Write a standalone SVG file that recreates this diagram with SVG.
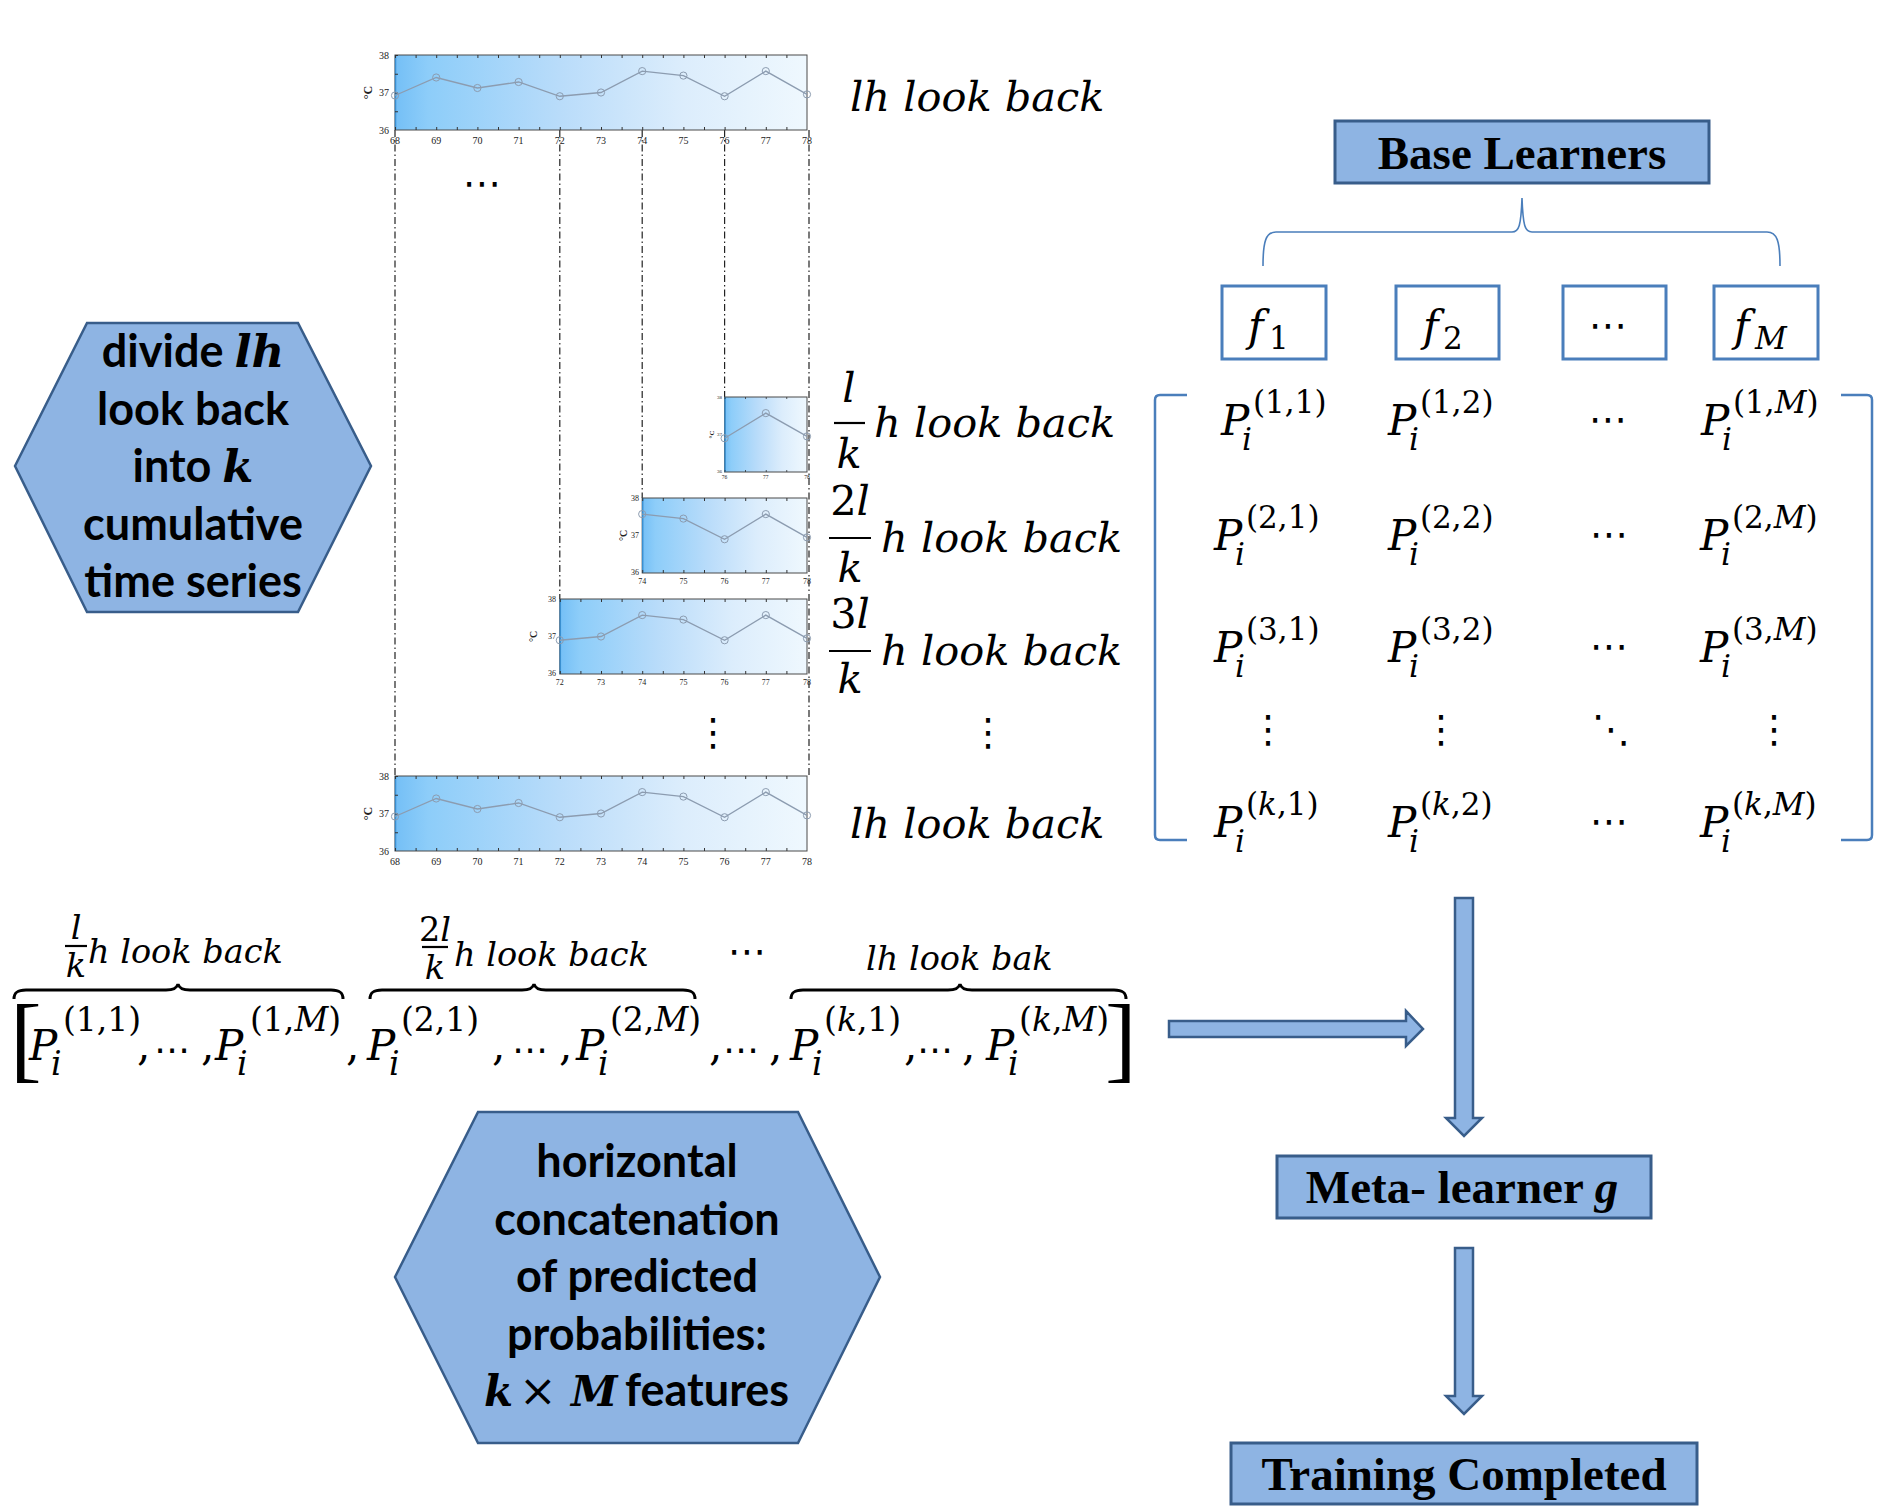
<svg xmlns="http://www.w3.org/2000/svg" width="1890" height="1512" viewBox="0 0 1890 1512">
<defs>
<linearGradient id="pg" x1="0" y1="0" x2="1" y2="0">
<stop offset="0" stop-color="#74bff6"/>
<stop offset="0.08" stop-color="#8dcdf9"/>
<stop offset="0.4" stop-color="#b9dcfa"/>
<stop offset="0.7" stop-color="#dcedfc"/>
<stop offset="1" stop-color="#eff8fe"/>
</linearGradient>
<marker id="mc" markerWidth="10" markerHeight="10" refX="5" refY="5" markerUnits="userSpaceOnUse"><circle cx="5" cy="5" r="3.6" fill="none" stroke="#8c9cb0" stroke-width="1"/></marker>
<style>
.pl{fill:url(#pg);stroke:#4a4a4a;stroke-width:1}
.le{stroke:#3a8fd0;stroke-width:1.5}
.tk{stroke:#333;fill:none}
.ln{fill:none;stroke:#8c9cb0;stroke-width:1.3;marker-start:url(#mc);marker-mid:url(#mc);marker-end:url(#mc)}
.al{font-family:"Liberation Serif",serif;fill:#222}
.dc{font-family:"Liberation Serif",serif;font-weight:bold;fill:#222}
.dd{stroke:#222;stroke-width:1.2;stroke-dasharray:7 3 1.5 3;fill:none}
.m{font-family:"DejaVu Serif",serif;font-style:italic;font-size:42px;fill:#000}
.lb{font-family:"DejaVu Serif",serif;font-style:italic;font-size:41.5px;fill:#000}
.sl{font-family:"DejaVu Serif",serif;font-style:italic;font-size:33.5px;fill:#000}
.s{font-size:31px}
.s2{font-size:33px}
.u{font-style:normal}
.it{font-style:italic}
.dt{font-family:"DejaVu Sans",sans-serif;font-size:38px;fill:#000}
.dn{font-family:"DejaVu Sans",sans-serif;font-style:normal;font-size:36px}
.hx{fill:#8eb4e3;stroke:#385d8a;stroke-width:2.5}
.ht{font-family:Lato,"Open Sans",sans-serif;font-weight:bold;font-size:45px;fill:#000;text-anchor:middle}
.hm{font-family:"DejaVu Serif",serif;font-style:italic;font-weight:bold}
.bx{fill:#8eb4e3;stroke:#385d8a;stroke-width:3}
.bt{font-family:"Liberation Serif",serif;font-weight:bold;font-size:47px;fill:#000;text-anchor:middle}
.fb{fill:#fff;stroke:#4a7ebb;stroke-width:3}
.ar{fill:#8eb4e3;stroke:#385d8a;stroke-width:2.5;stroke-linejoin:miter}
.br{fill:none;stroke:#4a7ebb;stroke-width:2.5}
.bb{fill:none;stroke:#000;stroke-width:3}
.fr{stroke:#000;stroke-width:2.2}
</style>
</defs>
<rect width="1890" height="1512" fill="#fff"/>

<!-- guides -->
<g id="guides">
<line class="dd" x1="395" y1="130" x2="395" y2="776"/>
<line class="dd" x1="559.8" y1="130" x2="559.8" y2="599"/>
<line class="dd" x1="642.2" y1="130" x2="642.2" y2="498"/>
<line class="dd" x1="724.6" y1="130" x2="724.6" y2="397"/>
<line class="dd" x1="809" y1="130" x2="809" y2="776"/>
</g>

<!-- chart top -->
<g id="chart-top">
<rect class="pl" x="395" y="55" width="412" height="75"/>
<line class="le" x1="395.5" y1="55" x2="395.5" y2="130"/>
<line class="tk" x1="395" y1="56.5" x2="807" y2="56.5" stroke-width="3" stroke-dasharray="1 19.6"/>
<line class="tk" x1="395" y1="128.5" x2="807" y2="128.5" stroke-width="3" stroke-dasharray="1 19.6"/>
<line class="tk" x1="396.5" y1="55" x2="396.5" y2="130" stroke-width="3" stroke-dasharray="1 17.75"/>
<polyline class="ln" points="395,95.5 436.2,77.5 477.4,88 518.6,82 559.8,96.25 601,92.5 642.2,71.1 683.4,75.6 724.6,96.25 765.8,71.1 807,94.4"/>
<g class="al" font-size="10" text-anchor="end"><text x="389" y="58.5">38</text><text x="389" y="96">37</text><text x="389" y="133.5">36</text></g>
<g class="al" font-size="10" text-anchor="middle"><text x="395" y="144">68</text><text x="436.2" y="144">69</text><text x="477.4" y="144">70</text><text x="518.6" y="144">71</text><text x="559.8" y="144">72</text><text x="601" y="144">73</text><text x="642.2" y="144">74</text><text x="683.4" y="144">75</text><text x="724.6" y="144">76</text><text x="765.8" y="144">77</text><text x="807" y="144">78</text></g>
<text class="dc" font-size="12" text-anchor="middle" transform="translate(372,92.5) rotate(-90)">°C</text>
</g>

<!-- chart l/k -->
<g id="chart-1">
<rect class="pl" x="724.6" y="397" width="82.4" height="75"/>
<line class="le" x1="725.1" y1="397" x2="725.1" y2="472"/>
<line class="tk" x1="724.6" y1="398" x2="807" y2="398" stroke-width="2" stroke-dasharray="0.8 19.8"/>
<line class="tk" x1="724.6" y1="471" x2="807" y2="471" stroke-width="2" stroke-dasharray="0.8 19.8"/>
<polyline class="ln" points="724.6,438.25 765.8,413.1 807,436.4"/>
<g class="al" font-size="5" text-anchor="end"><text x="722" y="399">38</text><text x="722" y="436">37</text><text x="722" y="473">36</text></g>
<g class="al" font-size="5.5" text-anchor="middle"><text x="724.6" y="479">76</text><text x="765.8" y="479">77</text><text x="807" y="479">78</text></g>
<text class="dc" font-size="7" text-anchor="middle" transform="translate(714,434.5) rotate(-90)">°C</text>
</g>

<!-- chart 2l/k -->
<g id="chart-2">
<rect class="pl" x="642.2" y="498" width="164.8" height="75"/>
<line class="le" x1="642.7" y1="498" x2="642.7" y2="573"/>
<line class="tk" x1="642.2" y1="499.5" x2="807" y2="499.5" stroke-width="3" stroke-dasharray="1 19.6"/>
<line class="tk" x1="642.2" y1="571.5" x2="807" y2="571.5" stroke-width="3" stroke-dasharray="1 19.6"/>
<polyline class="ln" points="642.2,514.1 683.4,518.6 724.6,539.25 765.8,514.1 807,537.4"/>
<g class="al" font-size="8" text-anchor="end"><text x="639" y="501">38</text><text x="639" y="538">37</text><text x="639" y="575">36</text></g>
<g class="al" font-size="8" text-anchor="middle"><text x="642.2" y="584">74</text><text x="683.4" y="584">75</text><text x="724.6" y="584">76</text><text x="765.8" y="584">77</text><text x="807" y="584">78</text></g>
<text class="dc" font-size="10" text-anchor="middle" transform="translate(627,535.5) rotate(-90)">°C</text>
</g>

<!-- chart 3l/k -->
<g id="chart-3">
<rect class="pl" x="559.8" y="599" width="247.2" height="75"/>
<line class="le" x1="560.3" y1="599" x2="560.3" y2="674"/>
<line class="tk" x1="559.8" y1="600.5" x2="807" y2="600.5" stroke-width="3" stroke-dasharray="1 19.6"/>
<line class="tk" x1="559.8" y1="672.5" x2="807" y2="672.5" stroke-width="3" stroke-dasharray="1 19.6"/>
<polyline class="ln" points="559.8,640.25 601,636.5 642.2,615.1 683.4,619.6 724.6,640.25 765.8,615.1 807,638.4"/>
<g class="al" font-size="8" text-anchor="end"><text x="556" y="602">38</text><text x="556" y="639">37</text><text x="556" y="676">36</text></g>
<g class="al" font-size="8" text-anchor="middle"><text x="559.8" y="685">72</text><text x="601" y="685">73</text><text x="642.2" y="685">74</text><text x="683.4" y="685">75</text><text x="724.6" y="685">76</text><text x="765.8" y="685">77</text><text x="807" y="685">78</text></g>
<text class="dc" font-size="10" text-anchor="middle" transform="translate(537,636.5) rotate(-90)">°C</text>
</g>

<!-- chart bottom -->
<g id="chart-bottom">
<rect class="pl" x="395" y="776" width="412" height="75"/>
<line class="le" x1="395.5" y1="776" x2="395.5" y2="851"/>
<line class="tk" x1="395" y1="777.5" x2="807" y2="777.5" stroke-width="3" stroke-dasharray="1 19.6"/>
<line class="tk" x1="395" y1="849.5" x2="807" y2="849.5" stroke-width="3" stroke-dasharray="1 19.6"/>
<line class="tk" x1="396.5" y1="776" x2="396.5" y2="851" stroke-width="3" stroke-dasharray="1 17.75"/>
<polyline class="ln" points="395,816.5 436.2,798.5 477.4,809 518.6,803 559.8,817.25 601,813.5 642.2,792.1 683.4,796.6 724.6,817.25 765.8,792.1 807,815.4"/>
<g class="al" font-size="10" text-anchor="end"><text x="389" y="779.5">38</text><text x="389" y="817">37</text><text x="389" y="854.5">36</text></g>
<g class="al" font-size="10" text-anchor="middle"><text x="395" y="865">68</text><text x="436.2" y="865">69</text><text x="477.4" y="865">70</text><text x="518.6" y="865">71</text><text x="559.8" y="865">72</text><text x="601" y="865">73</text><text x="642.2" y="865">74</text><text x="683.4" y="865">75</text><text x="724.6" y="865">76</text><text x="765.8" y="865">77</text><text x="807" y="865">78</text></g>
<text class="dc" font-size="12" text-anchor="middle" transform="translate(372,813.5) rotate(-90)">°C</text>
</g>

<text class="dt" x="482" y="196" text-anchor="middle">⋯</text>

<!-- right labels of charts -->
<g id="labels-lookback">
<text class="lb" x="850" y="111">lh look back</text>
<text class="lb" x="849" y="402" text-anchor="middle">l</text>
<line class="fr" x1="834" y1="423" x2="865" y2="423" stroke-width="2.5"/>
<text class="lb" x="849" y="468" text-anchor="middle">k</text>
<text class="lb" x="874" y="437">h look back</text>
<text class="lb" x="850" y="515" text-anchor="middle"><tspan class="u">2</tspan>l</text>
<line class="fr" x1="829" y1="538" x2="871" y2="538" stroke-width="2.5"/>
<text class="lb" x="850" y="582" text-anchor="middle">k</text>
<text class="lb" x="881" y="552">h look back</text>
<text class="lb" x="850" y="628" text-anchor="middle"><tspan class="u">3</tspan>l</text>
<line class="fr" x1="829" y1="651" x2="871" y2="651" stroke-width="2.5"/>
<text class="lb" x="850" y="693" text-anchor="middle">k</text>
<text class="lb" x="881" y="665">h look back</text>
<text class="dt" x="713" y="745" font-size="42" text-anchor="middle">⋮</text>
<text class="dt" x="988" y="745" font-size="42" text-anchor="middle">⋮</text>
<text class="lb" x="850" y="838">lh look back</text>
</g>

<!-- hexagon 1 -->
<g id="hex-divide">
<polygon class="hx" points="15,466 87,323 298,323 371,466 298,612 87,612"/>
<text class="ht" x="193" y="367">divide <tspan class="hm">lh</tspan></text>
<text class="ht" x="193" y="425">look back</text>
<text class="ht" x="193" y="482">into <tspan class="hm">k</tspan></text>
<text class="ht" x="193" y="540">cumulative</text>
<text class="ht" x="193" y="597">time series</text>
</g>

<!-- hexagon 2 -->
<g id="hex-concat">
<polygon class="hx" points="395,1277 478,1112 798,1112 880,1277 798,1443 478,1443"/>
<text class="ht" x="637" y="1177">horizontal</text>
<text class="ht" x="637" y="1235">concatenation</text>
<text class="ht" x="637" y="1292">of predicted</text>
<text class="ht" x="637" y="1350">probabilities:</text>
<text class="ht" y="1406" style="text-anchor:start"><tspan class="hm" x="484" font-size="42">k</tspan><tspan x="519" font-family="DejaVu Serif" font-weight="normal">×</tspan><tspan class="hm" x="571" font-size="42">M</tspan><tspan x="625">features</tspan></text>
</g>

<!-- Base learners -->
<g id="base-learners">
<rect class="bx" x="1335" y="121" width="374" height="62"/>
<text class="bt" x="1522" y="169">Base Learners</text>
</g>

<g id="f1"><rect class="fb" x="1222" y="286" width="104" height="73"/><text class="m" x="1248" y="341" font-size="47">f<tspan class="s u" x="1269" y="349">1</tspan></text></g>
<g id="f2"><rect class="fb" x="1396" y="286" width="103" height="73"/><text class="m" x="1423" y="341" font-size="47">f<tspan class="s u" x="1443" y="349">2</tspan></text></g>
<g id="fdots"><rect class="fb" x="1563" y="286" width="103" height="73"/><text class="dt" x="1608" y="338" text-anchor="middle">⋯</text></g>
<g id="fM"><rect class="fb" x="1714" y="286" width="104" height="73"/><text class="m" x="1734" y="341" font-size="47">f<tspan class="s" x="1755" y="349">M</tspan></text></g>

<!-- matrix -->
<g id="matrix">
<path class="br" d="M1187,395 L1160,395 Q1155,395 1155,400 L1155,835 Q1155,840 1160,840 L1187,840"/>
<path class="br" d="M1841,395 L1867,395 Q1872,395 1872,400 L1872,835 Q1872,840 1867,840 L1841,840"/>
<text class="m" x="1221" y="435">P<tspan class="s" x="1242" y="450">i</tspan><tspan class="s u" x="1253" y="413">(1,1)</tspan></text>
<text class="m" x="1388" y="435">P<tspan class="s" x="1409" y="450">i</tspan><tspan class="s u" x="1420" y="413">(1,2)</tspan></text>
<text class="dt" x="1608" y="432" text-anchor="middle">⋯</text>
<text class="m" x="1701" y="435">P<tspan class="s" x="1722" y="450">i</tspan><tspan class="s u" x="1733" y="413">(1,<tspan class="it">M</tspan>)</tspan></text>

<text class="m" x="1214" y="550">P<tspan class="s" x="1235" y="565">i</tspan><tspan class="s u" x="1246" y="528">(2,1)</tspan></text>
<text class="m" x="1388" y="550">P<tspan class="s" x="1409" y="565">i</tspan><tspan class="s u" x="1420" y="528">(2,2)</tspan></text>
<text class="dt" x="1609" y="547" text-anchor="middle">⋯</text>
<text class="m" x="1700" y="550">P<tspan class="s" x="1721" y="565">i</tspan><tspan class="s u" x="1732" y="528">(2,<tspan class="it">M</tspan>)</tspan></text>

<text class="m" x="1214" y="662">P<tspan class="s" x="1235" y="677">i</tspan><tspan class="s u" x="1246" y="640">(3,1)</tspan></text>
<text class="m" x="1388" y="662">P<tspan class="s" x="1409" y="677">i</tspan><tspan class="s u" x="1420" y="640">(3,2)</tspan></text>
<text class="dt" x="1609" y="659" text-anchor="middle">⋯</text>
<text class="m" x="1700" y="662">P<tspan class="s" x="1721" y="677">i</tspan><tspan class="s u" x="1732" y="640">(3,<tspan class="it">M</tspan>)</tspan></text>

<text class="dt" x="1268" y="742" text-anchor="middle">⋮</text>
<text class="dt" x="1441" y="742" text-anchor="middle">⋮</text>
<text class="dt" x="1611" y="742" text-anchor="middle">⋱</text>
<text class="dt" x="1774" y="742" text-anchor="middle">⋮</text>

<text class="m" x="1214" y="837">P<tspan class="s" x="1235" y="852">i</tspan><tspan class="s u" x="1246" y="815">(<tspan class="it">k</tspan>,1)</tspan></text>
<text class="m" x="1388" y="837">P<tspan class="s" x="1409" y="852">i</tspan><tspan class="s u" x="1420" y="815">(<tspan class="it">k</tspan>,2)</tspan></text>
<text class="dt" x="1609" y="834" text-anchor="middle">⋯</text>
<text class="m" x="1700" y="837">P<tspan class="s" x="1721" y="852">i</tspan><tspan class="s u" x="1732" y="815">(<tspan class="it">k</tspan>,<tspan class="it">M</tspan>)</tspan></text>
</g>

<!-- concatenated vector -->
<g id="concat-vector">
<text class="sl" x="76" y="939" font-size="28" text-anchor="middle">l</text>
<line class="fr" x1="65" y1="946" x2="87" y2="946"/>
<text class="sl" x="76" y="977" font-size="28" text-anchor="middle">k</text>
<text class="sl" x="88" y="963">h look back</text>
<text class="sl" x="435" y="941" font-size="28" text-anchor="middle"><tspan class="u">2</tspan>l</text>
<line class="fr" x1="422" y1="947" x2="448" y2="947"/>
<text class="sl" x="435" y="979" font-size="28" text-anchor="middle">k</text>
<text class="sl" x="454" y="966">h look back</text>
<text class="dt" x="747" y="964" font-size="34" text-anchor="middle">⋯</text>
<text class="sl" x="866" y="970">lh look bak</text>

<path class="bb" d="M14,999 C14,992 18,990 26,990 L166,990 C173,990 177,988 178,984 C179,988 183,990 190,990 L331,990 C339,990 343,992 343,999"/>
<path class="bb" d="M370,999 C370,992 374,990 382,990 L522,990 C529,990 533,988 534,984 C535,988 539,990 546,990 L683,990 C691,990 695,992 695,999"/>
<path class="bb" d="M791,999 C791,992 795,990 803,990 L948,990 C955,990 959,988 960,984 C961,988 965,990 972,990 L1114,990 C1122,990 1126,992 1126,999"/>

<text class="m" font-size="45"><tspan class="u" x="10" y="1070" font-family="Liberation Serif" font-size="95">[</tspan><tspan x="29" y="1060">P</tspan><tspan class="s2" x="51" y="1075">i</tspan><tspan class="s2 u" x="63" y="1031">(1,1)</tspan><tspan class="u" x="137" y="1060">,</tspan><tspan class="dn" x="154" y="1062">⋯</tspan><tspan class="u" x="201" y="1060">,</tspan><tspan x="215" y="1060">P</tspan><tspan class="s2" x="237" y="1075">i</tspan><tspan class="s2 u" x="250" y="1031">(1,<tspan class="it">M</tspan>)</tspan><tspan class="u" x="346" y="1060">,</tspan><tspan x="367" y="1060">P</tspan><tspan class="s2" x="389" y="1075">i</tspan><tspan class="s2 u" x="401" y="1031">(2,1)</tspan><tspan class="u" x="492" y="1060">,</tspan><tspan class="dn" x="512" y="1062">⋯</tspan><tspan class="u" x="559" y="1060">,</tspan><tspan x="576" y="1060">P</tspan><tspan class="s2" x="598" y="1075">i</tspan><tspan class="s2 u" x="610" y="1031">(2,<tspan class="it">M</tspan>)</tspan><tspan class="u" x="709" y="1060">,</tspan><tspan class="dn" x="723" y="1062">⋯</tspan><tspan class="u" x="769" y="1060">,</tspan><tspan x="790" y="1060">P</tspan><tspan class="s2" x="812" y="1075">i</tspan><tspan class="s2 u" x="824" y="1031">(<tspan class="it">k</tspan>,1)</tspan><tspan class="u" x="904" y="1060">,</tspan><tspan class="dn" x="917" y="1062">⋯</tspan><tspan class="u" x="962" y="1060">,</tspan><tspan x="986" y="1060">P</tspan><tspan class="s2" x="1008" y="1075">i</tspan><tspan class="s2 u" x="1019" y="1031">(<tspan class="it">k</tspan>,<tspan class="it">M</tspan>)</tspan><tspan class="u" x="1105" y="1070" font-family="Liberation Serif" font-size="95">]</tspan></text>
</g>

<!-- meta and training -->
<g id="meta-learner">
<rect class="bx" x="1277" y="1156" width="374" height="62"/>
<text class="bt" x="1462" y="1203" font-size="48">Meta- learner <tspan font-style="italic">g</tspan></text>
</g>
<g id="training-completed">
<rect class="bx" x="1231" y="1443" width="466" height="61"/>
<text class="bt" x="1464" y="1490">Training Completed</text>
</g>

<!-- connectors -->
<g id="connectors">
<path d="M1263,266 C1263,241 1266,232 1276,232 L1512,232 C1519,232 1521,226 1522,198 C1523,226 1525,232 1532,232 L1767,232 C1777,232 1780,241 1780,266" fill="none" stroke="#4a7ebb" stroke-width="1.6"/>
<polygon class="ar" points="1169,1021 1406,1021 1406,1011 1423,1029 1406,1046 1406,1037 1169,1037"/>
<polygon class="ar" points="1455,898 1473,898 1473,1118 1482,1118 1464,1136 1446,1118 1455,1118"/>
<polygon class="ar" points="1455,1248 1473,1248 1473,1396 1482,1396 1464,1414 1446,1396 1455,1396"/>
</g>
</svg>
